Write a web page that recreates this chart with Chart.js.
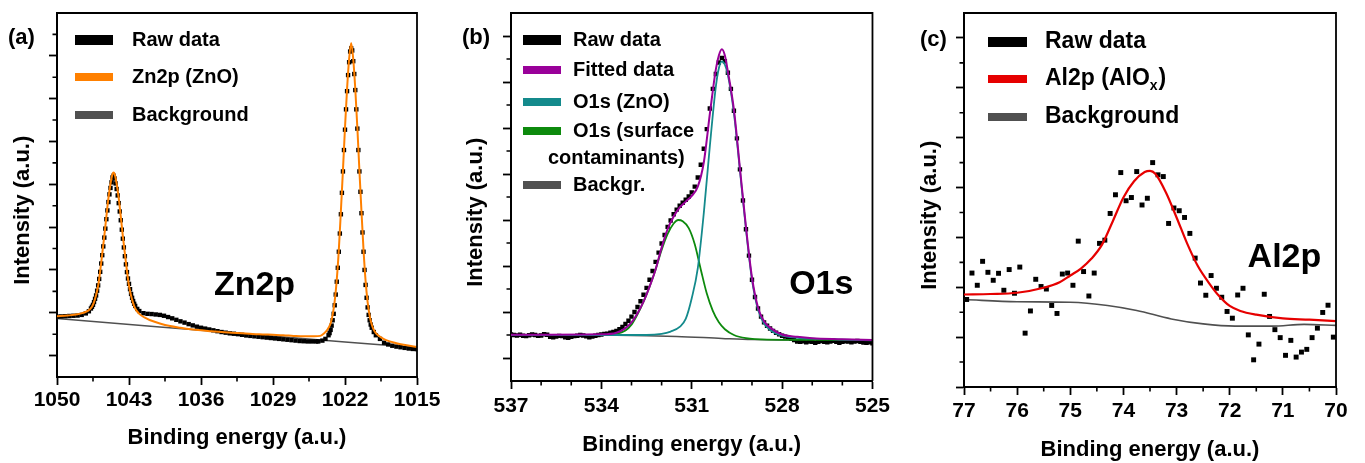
<!DOCTYPE html>
<html lang="en">
<head>
<meta charset="utf-8">
<title>XPS Zn2p / O1s / Al2p</title>
<script src="https://cdn.jsdelivr.net/npm/chart.js@4.4.0/dist/chart.umd.min.js"></script>
<style>
  html, body { margin: 0; padding: 0; background: #fff; }
  body { width: 1365px; height: 463px; position: relative; overflow: hidden; }
  canvas { position: absolute; top: 0; }
</style>
</head>
<body>
<canvas id="chartZn" width="445" height="463" style="left:0px"></canvas>
<canvas id="chartO" width="450" height="463" style="left:445px"></canvas>
<canvas id="chartAl" width="470" height="463" style="left:895px"></canvas>
<script>
// ---------- (a) Zn2p ----------
const znTicks = [1050, 1043, 1036, 1029, 1022, 1015];
const znMinor = [1046.5, 1039.5, 1032.5, 1025.5, 1018.5];

const znRawE = [
  1050.0, 1049.6, 1049.2, 1048.8, 1048.4, 1048.0, 1047.6, 1047.2, 1046.9, 1046.7,
  1046.6, 1046.5, 1046.4, 1046.3, 1046.2, 1046.1, 1046.0, 1045.9, 1045.8, 1045.7,
  1045.6, 1045.5, 1045.4, 1045.3, 1045.2, 1045.1, 1045.0, 1044.9, 1044.8, 1044.7,
  1044.6, 1044.5, 1044.4, 1044.3, 1044.2, 1044.1, 1044.0, 1043.9, 1043.8, 1043.7,
  1043.6, 1043.5, 1043.4, 1043.3, 1043.2, 1043.1, 1043.0, 1042.9, 1042.8, 1042.7,
  1042.6, 1042.5, 1042.4, 1042.2, 1042.0, 1041.6, 1041.2, 1040.8, 1040.4, 1040.0,
  1039.6, 1039.2, 1038.8, 1038.4, 1038.0, 1037.6, 1037.2, 1036.8, 1036.4, 1036.0,
  1035.6, 1035.2, 1034.8, 1034.4, 1034.0, 1033.6, 1033.2, 1032.8, 1032.4, 1032.0,
  1031.6, 1031.2, 1030.8, 1030.4, 1030.0, 1029.6, 1029.2, 1028.8, 1028.4, 1028.0,
  1027.6, 1027.2, 1026.8, 1026.4, 1026.0, 1025.6, 1025.2, 1024.8, 1024.6, 1024.2,
  1023.9, 1023.6, 1023.5, 1023.4, 1023.3, 1023.2, 1023.1, 1023.0, 1022.9, 1022.8,
  1022.7, 1022.6, 1022.5, 1022.4, 1022.3, 1022.2, 1022.1, 1022.0, 1021.9, 1021.8,
  1021.7, 1021.6, 1021.5, 1021.4, 1021.3, 1021.2, 1021.1, 1021.0, 1020.9, 1020.8,
  1020.7, 1020.6, 1020.5, 1020.4, 1020.3, 1020.2, 1020.1, 1020.0, 1019.9, 1019.8,
  1019.7, 1019.6, 1019.5, 1019.4, 1019.2, 1019.0, 1018.6, 1018.2, 1017.8, 1017.4,
  1017.0, 1016.6, 1016.2, 1015.8, 1015.4, 1015.0
];
const znRawI = [
  2.82, 2.83, 2.84, 2.85, 2.86, 2.87, 2.90, 2.97, 3.07, 3.20,
  3.28, 3.37, 3.50, 3.65, 3.81, 4.03, 4.28, 4.58, 4.91, 5.30,
  5.69, 6.10, 6.51, 6.93, 7.37, 7.78, 8.17, 8.53, 8.83, 9.09,
  9.32, 9.40, 9.27, 9.04, 8.78, 8.48, 8.12, 7.73, 7.32, 6.88,
  6.46, 6.05, 5.64, 5.26, 4.90, 4.60, 4.35, 4.10, 3.88, 3.70,
  3.55, 3.42, 3.32, 3.18, 3.08, 2.98, 2.95, 2.94, 2.92, 2.90,
  2.86, 2.80, 2.74, 2.67, 2.60, 2.54, 2.47, 2.41, 2.35, 2.30,
  2.26, 2.22, 2.18, 2.14, 2.10, 2.07, 2.04, 2.02, 2.00, 1.97,
  1.94, 1.92, 1.90, 1.88, 1.86, 1.84, 1.82, 1.80, 1.78, 1.76,
  1.74, 1.72, 1.70, 1.68, 1.67, 1.66, 1.66, 1.66, 1.66, 1.70,
  1.78, 1.95, 2.05, 2.20, 2.40, 2.65, 2.95, 3.35, 3.85, 4.45,
  5.10, 5.85, 6.70, 7.60, 8.60, 9.60, 10.60, 11.55, 12.50, 13.35,
  14.10, 14.70, 15.20, 15.35, 15.25, 14.75, 14.15, 13.40, 12.50, 11.60,
  10.60, 9.60, 8.65, 7.65, 6.75, 5.85, 5.00, 4.30, 3.70, 3.25,
  2.90, 2.65, 2.45, 2.30, 2.10, 1.95, 1.78, 1.60, 1.52, 1.46,
  1.42, 1.39, 1.36, 1.33, 1.31, 1.30
];
const znFitE = [
  1050.0, 1049.0, 1048.0, 1047.0, 1046.6, 1046.4, 1046.2, 1046.0, 1045.8, 1045.6,
  1045.4, 1045.2, 1045.0, 1044.8, 1044.6, 1044.5, 1044.4, 1044.2, 1044.0, 1043.8,
  1043.6, 1043.4, 1043.2, 1043.0, 1042.8, 1042.6, 1042.4, 1042.0, 1041.5, 1041.0,
  1040.0, 1039.0, 1038.0, 1037.0, 1036.0, 1035.0, 1034.0, 1033.0, 1032.0, 1031.0,
  1030.0, 1029.0, 1028.0, 1027.0, 1026.0, 1025.0, 1024.4, 1024.0, 1023.8, 1023.6,
  1023.4, 1023.2, 1023.0, 1022.8, 1022.6, 1022.4, 1022.2, 1022.0, 1021.8, 1021.6,
  1021.4, 1021.2, 1021.0, 1020.8, 1020.6, 1020.4, 1020.2, 1020.0, 1019.8, 1019.6,
  1019.4, 1019.2, 1019.0, 1018.5, 1018.0, 1017.0, 1016.0, 1015.0
];
const znFitI = [
  2.84, 2.87, 2.93, 3.09, 3.28, 3.50, 3.83, 4.26, 4.96, 5.76,
  6.59, 7.49, 8.35, 9.02, 9.48, 9.55, 9.48, 9.02, 8.35, 7.49,
  6.59, 5.76, 4.96, 4.26, 3.80, 3.45, 3.20, 2.95, 2.78, 2.66,
  2.50, 2.38, 2.30, 2.23, 2.18, 2.14, 2.10, 2.07, 2.04, 2.01,
  1.99, 1.97, 1.95, 1.92, 1.90, 1.90, 1.92, 2.05, 2.15, 2.30,
  2.50, 2.90, 3.55, 4.55, 5.95, 7.75, 9.65, 11.65, 13.45, 14.85,
  15.60, 14.85, 13.45, 11.65, 9.65, 7.75, 5.95, 4.50, 3.50, 2.85,
  2.45, 2.20, 2.05, 1.85, 1.72, 1.58, 1.48, 1.40
];
const znBgE = [1050, 1040, 1030, 1022, 1015];
const znBgI = [2.73, 2.34, 1.95, 1.64, 1.37];

// ---------- (b) O1s ----------
const oTicks = [537, 534, 531, 528, 525];
const oMinor = [536, 535, 533, 532, 530, 529, 527, 526];

const oRawE = [
  537.0, 536.9, 536.8, 536.7, 536.6, 536.5, 536.4, 536.3, 536.2, 536.1,
  536.0, 535.9, 535.8, 535.7, 535.6, 535.5, 535.4, 535.3, 535.2, 535.1,
  535.0, 534.9, 534.8, 534.7, 534.6, 534.5, 534.4, 534.3, 534.2, 534.1,
  534.0, 533.9, 533.8, 533.7, 533.6, 533.5, 533.4, 533.3, 533.2, 533.1,
  533.0, 532.9, 532.8, 532.7, 532.6, 532.5, 532.4, 532.3, 532.2, 532.1,
  532.0, 531.9, 531.8, 531.7, 531.6, 531.5, 531.4, 531.3, 531.2, 531.1,
  531.0, 530.9, 530.8, 530.7, 530.6, 530.5, 530.4, 530.3, 530.2, 530.1,
  530.0, 529.9, 529.8, 529.7, 529.6, 529.5, 529.4, 529.3, 529.2, 529.1,
  529.0, 528.9, 528.8, 528.7, 528.6, 528.5, 528.4, 528.3, 528.2, 528.1,
  528.0, 527.9, 527.8, 527.7, 527.6, 527.5, 527.4, 527.3, 527.2, 527.1,
  527.0, 526.9, 526.8, 526.7, 526.6, 526.5, 526.4, 526.3, 526.2, 526.1,
  526.0, 525.9, 525.8, 525.7, 525.6, 525.5, 525.4, 525.3, 525.2, 525.1,
  525.0
];
const oRawI = [
  2.02, 2.00, 1.98, 2.01, 1.97, 1.95, 1.99, 2.02, 2.00, 1.96,
  1.98, 2.03, 2.01, 1.92, 1.90, 1.93, 1.96, 1.95, 1.90, 1.88,
  1.92, 1.95, 1.97, 2.00, 1.98, 1.94, 1.90, 1.93, 1.97, 2.00,
  2.02, 2.05, 2.06, 2.10, 2.13, 2.18, 2.25, 2.35, 2.48, 2.62,
  2.80, 3.00, 3.22, 3.47, 3.75, 4.05, 4.40, 4.78, 5.18, 5.58,
  5.98, 6.35, 6.70, 6.98, 7.25, 7.45, 7.62, 7.75, 7.88, 8.02,
  8.20, 8.45, 8.85, 9.40, 10.10, 10.95, 11.85, 12.70, 13.35, 13.85,
  14.05, 13.90, 13.40, 12.70, 11.75, 10.55, 9.20, 7.85, 6.60, 5.45,
  4.40, 3.65, 3.15, 2.80, 2.55, 2.40, 2.28, 2.18, 2.10, 2.03,
  1.97, 1.93, 1.88, 1.84, 1.78, 1.72, 1.70, 1.73, 1.68, 1.72,
  1.70, 1.66, 1.70, 1.74, 1.70, 1.68, 1.72, 1.75, 1.70, 1.66,
  1.70, 1.73, 1.71, 1.68, 1.72, 1.74, 1.70, 1.67, 1.66, 1.68,
  1.64
];
const oFitE = [
  537.0, 534.0, 533.5, 533.2, 533.0, 532.8, 532.6, 532.4, 532.2, 532.0,
  531.8, 531.6, 531.4, 531.2, 531.0, 530.8, 530.6, 530.4, 530.2, 530.1,
  530.0, 529.9, 529.8, 529.6, 529.4, 529.2, 529.0, 528.8, 528.6, 528.4,
  528.0, 527.5, 527.0, 526.0, 525.0
];
const oFitI = [
  2.01, 2.03, 2.10, 2.30, 2.55, 2.95, 3.45, 4.10, 4.85, 5.80,
  6.60, 7.15, 7.55, 7.80, 8.05, 8.45, 9.50, 11.60, 13.55, 14.15,
  14.42, 14.15, 13.45, 11.80, 9.25, 6.70, 4.50, 3.20, 2.60, 2.32,
  2.02, 1.92, 1.86, 1.82, 1.78
];
const oZnoE = [
  537.0, 533.0, 532.5, 532.0, 531.7, 531.4, 531.2, 531.0, 530.8, 530.6,
  530.4, 530.2, 530.1, 530.0, 529.9, 529.8, 529.6, 529.4, 529.2, 529.0,
  528.8, 528.6, 528.4, 528.0, 527.5, 527.0, 526.0, 525.0
];
const oZnoI = [
  2.00, 2.00, 2.00, 2.05, 2.15, 2.35, 2.70, 3.60, 4.90, 7.30,
  10.20, 12.80, 13.60, 13.90, 13.75, 13.30, 11.65, 9.15, 6.60, 4.40,
  3.10, 2.50, 2.22, 1.97, 1.88, 1.84, 1.80, 1.77
];
const oSupE = [
  537.0, 534.0, 533.5, 533.2, 533.0, 532.8, 532.6, 532.4, 532.2, 532.0,
  531.8, 531.6, 531.45, 531.3, 531.1, 530.9, 530.7, 530.5, 530.3, 530.1,
  529.9, 529.6, 529.2, 528.5, 527.0, 525.0
];
const oSupI = [
  2.00, 2.00, 2.05, 2.20, 2.45, 2.90, 3.45, 4.10, 4.85, 5.70,
  6.40, 6.85, 7.00, 6.95, 6.65, 5.95, 4.85, 3.80, 3.05, 2.55,
  2.25, 2.00, 1.86, 1.80, 1.79, 1.78
];
const oBgE = [537.0, 533.5, 531.5, 530.0, 529.0, 525.0];
const oBgI = [2.00, 1.99, 1.94, 1.85, 1.80, 1.77];

// ---------- (c) Al2p ----------
const alTicks = [77, 76, 75, 74, 73, 72, 71, 70];
const alMinor = [76.5, 75.5, 74.5, 73.5, 72.5, 71.5, 70.5];

const alRawE = [
  76.95, 76.85, 76.75, 76.65, 76.55, 76.45, 76.35, 76.25, 76.15, 76.05,
  75.95, 75.85, 75.75, 75.65, 75.55, 75.45, 75.35, 75.25, 75.15, 75.05,
  74.95, 74.85, 74.75, 74.65, 74.55, 74.45, 74.35, 74.25, 74.15, 74.05,
  73.95, 73.85, 73.75, 73.65, 73.55, 73.45, 73.35, 73.25, 73.15, 73.05,
  72.95, 72.85, 72.75, 72.65, 72.55, 72.45, 72.35, 72.25, 72.15, 72.05,
  71.95, 71.85, 71.75, 71.65, 71.55, 71.45, 71.35, 71.25, 71.15, 71.05,
  70.95, 70.85, 70.75, 70.65, 70.55, 70.45, 70.35, 70.25, 70.15, 70.05
];
const alRawI = [
  3.51, 4.57, 4.08, 5.04, 4.60, 4.28, 4.56, 3.88, 4.71, 3.76,
  4.81, 2.16, 3.05, 4.32, 4.03, 3.93, 3.27, 2.95, 4.53, 4.57,
  4.08, 5.85, 4.63, 3.65, 4.57, 5.76, 5.89, 6.96, 7.71, 8.60,
  7.47, 7.60, 8.64, 7.30, 7.57, 9.00, 8.51, 8.44, 6.56, 7.18,
  7.07, 6.80, 6.16, 5.17, 4.17, 3.68, 4.47, 3.96, 3.60, 3.03,
  2.76, 3.69, 3.96, 2.09, 1.09, 1.72, 3.72, 2.83, 2.30, 1.98,
  1.27, 1.87, 1.20, 1.40, 1.51, 1.98, 2.36, 2.99, 3.28, 2.00
];
const alFitE = [
  77.0, 76.5, 76.0, 75.5, 75.2, 75.0, 74.8, 74.6, 74.4, 74.2,
  74.0, 73.8, 73.6, 73.5, 73.4, 73.2, 73.0, 72.8, 72.6, 72.4,
  72.2, 72.0, 71.8, 71.5, 71.0, 70.5, 70.0
];
const alFitI = [
  3.71, 3.73, 3.78, 3.98, 4.20, 4.47, 4.75, 5.15, 5.72, 6.65,
  7.60, 8.25, 8.62, 8.67, 8.55, 7.80, 6.80, 5.75, 4.85, 4.20,
  3.65, 3.25, 3.05, 2.90, 2.75, 2.70, 2.64
];
const alBgE = [77.0, 76.0, 75.0, 74.3, 73.75, 73.1, 72.5, 71.9, 71.2, 70.6, 70.0];
const alBgI = [3.51, 3.42, 3.40, 3.27, 3.07, 2.73, 2.53, 2.44, 2.44, 2.51, 2.47];

// ---------- utilidades ----------
const FAMILIA = '"Liberation Sans", Arial, Helvetica, sans-serif';
Chart.defaults.font.family = FAMILIA;
Chart.defaults.color = '#000';

function puntos(e, i) {
  return e.map((v, k) => ({ x: v, y: i[k] }));
}

function crudo(e, i, radio, orden) {
  return {
    label: 'Raw data', data: puntos(e, i), showLine: false,
    pointStyle: 'rect', pointRadius: radio, pointBorderWidth: 0,
    backgroundColor: '#000', borderColor: '#000', order: orden,
    colorLeyenda: '#000', grosorLeyenda: 10
  };
}

function curva(label, e, i, color, ancho, orden) {
  return {
    label, data: puntos(e, i), showLine: true, borderColor: color, borderWidth: ancho,
    pointRadius: 0, cubicInterpolationMode: 'monotone', order: orden,
    colorLeyenda: color, grosorLeyenda: 8
  };
}

// texto con subindices: "AlO_x" -> x como subindice
function textoRico(ctx, texto, x, y, size) {
  const partes = texto.split(/(_.)/).filter(p => p.length);
  let cx = x;
  partes.forEach(p => {
    if (p[0] === '_') {
      ctx.font = `bold ${Math.round(size * 0.62)}px ${FAMILIA}`;
      ctx.fillText(p.slice(1), cx, y + size * 0.3);
      cx += ctx.measureText(p.slice(1)).width + 1;
    } else {
      ctx.font = `bold ${size}px ${FAMILIA}`;
      ctx.fillText(p, cx, y);
      cx += ctx.measureText(p).width;
    }
  });
}

// marco, ticks menores, leyenda y rotulos
const decoracion = {
  id: 'decoracion',
  afterDraw(chart, args, o) {
    const { ctx, chartArea: a } = chart;
    const sx = chart.scales.x, sy = chart.scales.y;
    ctx.save();
    ctx.strokeStyle = '#000';
    ctx.lineWidth = 1.8;
    ctx.beginPath();
    ctx.moveTo(a.left, a.top);
    ctx.lineTo(a.right, a.top);
    ctx.lineTo(a.right, a.bottom);
    ctx.stroke();

    ctx.lineWidth = 1.6;
    ctx.beginPath();
    o.xMenores.forEach(v => {
      const p = sx.getPixelForValue(v);
      ctx.moveTo(p, a.bottom); ctx.lineTo(p, a.bottom + 4.5);
    });
    o.yMenores.forEach(v => {
      const p = sy.getPixelForValue(v);
      ctx.moveTo(a.left, p); ctx.lineTo(a.left - 4.5, p);
    });
    ctx.stroke();

    // leyenda
    const L = o.leyenda;
    ctx.textAlign = 'left';
    ctx.textBaseline = 'middle';
    chart.data.datasets.forEach((ds, k) => {
      const fy = L.filas[k];
      ctx.fillStyle = ds.colorLeyenda;
      ctx.fillRect(L.x0, fy - ds.grosorLeyenda / 2, L.x1 - L.x0, ds.grosorLeyenda);
      ctx.fillStyle = '#000';
      const lineas = ds.label.split('\n');
      lineas.forEach((t, j) => {
        const tx = j === 0 ? L.tx : L.tx + L.sangria;
        textoRico(ctx, t, tx, fy + j * L.salto, L.tam);
      });
    });

    // rotulo grande dentro del grafico
    ctx.font = `bold 34px ${FAMILIA}`;
    ctx.textAlign = 'center';
    ctx.fillText(o.nota.texto, sx.getPixelForValue(o.nota.x), sy.getPixelForValue(o.nota.y));

    // letra del panel
    ctx.font = `bold 22px ${FAMILIA}`;
    ctx.textAlign = 'left';
    ctx.fillText(o.letra.texto, o.letra.x, o.letra.y);
    ctx.restore();
  }
};

function ejeX(min, max, marcas, alto, padTicks, padTitulo) {
  return {
    type: 'linear', reverse: true, min, max, offset: false,
    afterBuildTicks: s => { s.ticks = marcas.map(v => ({ value: v })); },
    afterFit: s => { s.height = alto; },
    ticks: {
      autoSkip: false, maxRotation: 0, padding: padTicks, color: '#000',
      font: { size: 21, weight: 'bold' }, callback: v => String(v)
    },
    grid: { drawOnChartArea: false, color: '#000', tickLength: 8, tickWidth: 1.8 },
    border: { color: '#000', width: 2 },
    title: {
      display: true, text: 'Binding energy (a.u.)', color: '#000',
      font: { size: 22, weight: 'bold' }, padding: { top: 0, bottom: padTitulo }
    }
  };
}

function ejeY(max, mayores, ancho, padTitulo) {
  return {
    type: 'linear', min: 0, max,
    afterBuildTicks: s => { s.ticks = mayores.map(v => ({ value: v })); },
    afterFit: s => { s.width = ancho; },
    ticks: { display: false },
    grid: { drawOnChartArea: false, color: '#000', tickLength: 8, tickWidth: 1.8 },
    border: { color: '#000', width: 2 },
    title: {
      display: true, text: 'Intensity (a.u.)' + '\u00a0'.repeat(5), color: '#000',
      font: { size: 22, weight: 'bold' }, padding: { top: padTitulo, bottom: 0 }
    }
  };
}

function crearPanel(id, datasets, escalas, padDerecha, deco) {
  new Chart(document.getElementById(id), {
    type: 'scatter',
    data: { datasets },
    options: {
      responsive: false, animation: false, devicePixelRatio: 1, events: [],
      layout: { padding: { top: 13, right: padDerecha, left: 0, bottom: 0 } },
      scales: escalas,
      plugins: { legend: { display: false }, tooltip: { enabled: false }, decoracion: deco }
    },
    plugins: [decoracion]
  });
}

// (a)
crearPanel('chartZn', [
  crudo(znRawE, znRawI, 3.1, 2),
  curva('Zn2p (ZnO)', znFitE, znFitI, '#ff8000', 2, 0),
  curva('Background', znBgE, znBgI, '#505050', 1.5, 3)
], {
  x: ejeX(1015, 1050, znTicks, 86, 3, 12),
  y: ejeY(17, [1, 3, 5, 7, 9, 11, 13, 15], 57, 10)
}, 28, {
  xMenores: znMinor, yMenores: [2, 4, 6, 8, 10, 12, 14, 16],
  leyenda: { x0: 75, x1: 113, tx: 132, filas: [40, 77, 115], salto: 27, sangria: 0, tam: 20 },
  nota: { texto: 'Zn2p', x: 1030.8, y: 4.29 },
  letra: { texto: '(a)', x: 8, y: 38 }
});

// (b)
crearPanel('chartO', [
  crudo(oRawE, oRawI, 3.1, 5),
  curva('Fitted data', oFitE, oFitI, '#990099', 2, 0),
  curva('O1s (ZnO)', oZnoE, oZnoI, '#148a8c', 1.8, 1),
  curva('O1s (surface\ncontaminants)', oSupE, oSupI, '#0d8a0d', 1.8, 2),
  curva('Backgr.', oBgE, oBgI, '#505050', 1.5, 6)
], {
  x: ejeX(525, 537, oTicks, 82, 5, 5),
  y: ejeY(16, [1, 3, 5, 7, 9, 11, 13, 15], 66, 18)
}, 19, {
  xMenores: oMinor, yMenores: [2, 4, 6, 8, 10, 12, 14],
  leyenda: { x0: 78, x1: 116, tx: 128, filas: [40, 70, 102, 131, 185], salto: 27, sangria: -25, tam: 20 },
  nota: { texto: 'O1s', x: 526.7, y: 4.17 },
  letra: { texto: '(b)', x: 17, y: 38 }
});

// (c)
crearPanel('chartAl', [
  crudo(alRawE, alRawI, 3.5, 2),
  curva('Al2p (AlO_x)', alFitE, alFitI, '#e60000', 2.2, 0),
  curva('Background', alBgE, alBgI, '#505050', 1.6, 3)
], {
  x: ejeX(70, 77, alTicks, 76, 4, 0),
  y: ejeY(15, [0, 2, 4, 6, 8, 10, 12, 14], 69, 22)
}, 29, {
  xMenores: alMinor, yMenores: [1, 3, 5, 7, 9, 11, 13],
  leyenda: { x0: 93, x1: 132, tx: 150, filas: [42, 79, 117], salto: 27, sangria: 0, tam: 23 },
  nota: { texto: 'Al2p', x: 70.97, y: 5.19 },
  letra: { texto: '(c)', x: 25, y: 40 }
});
</script>
</body>
</html>
